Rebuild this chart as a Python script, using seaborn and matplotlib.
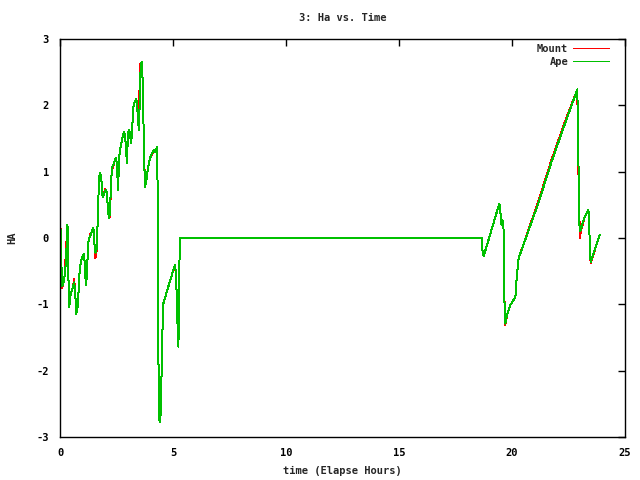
import matplotlib

matplotlib.use("Agg")
import matplotlib.pyplot as plt
import pandas as pd
import seaborn as sns

# elapsed hours, shared by both series
time_hours = [
    0.00, 0.04, 0.09, 0.13, 0.18, 0.22, 0.27, 0.31, 0.33, 0.35, 0.38, 0.41, 0.46, 0.50,
    0.55, 0.59, 0.63, 0.68, 0.72, 0.77, 0.81, 0.85, 0.90, 0.94, 0.99, 1.03, 1.07, 1.12,
    1.16, 1.21, 1.25, 1.30, 1.34, 1.39, 1.43, 1.47, 1.52, 1.53, 1.56, 1.61, 1.65, 1.70,
    1.74, 1.78, 1.83, 1.87, 1.90, 1.95, 1.99, 2.04, 2.08, 2.12, 2.17, 2.21, 2.26, 2.30,
    2.35, 2.39, 2.43, 2.48, 2.52, 2.57, 2.61, 2.65, 2.70, 2.74, 2.79, 2.83, 2.88, 2.92,
    2.96, 3.01, 3.05, 3.10, 3.14, 3.19, 3.23, 3.27, 3.32, 3.36, 3.41, 3.45, 3.50, 3.54,
    3.58, 3.63, 3.67, 3.72, 3.76, 3.81, 3.85, 3.89, 3.94, 3.98, 4.03, 4.07, 4.12, 4.16,
    4.20, 4.25, 4.29, 4.34, 4.35, 4.40, 4.44, 4.48, 4.53, 4.57, 4.66, 4.75, 4.84, 4.93,
    5.01, 5.10, 5.15, 5.19, 5.24, 5.28, 5.32, 18.66, 18.70, 18.75, 19.44, 19.48, 19.53,
    19.57, 19.62, 19.66, 19.70, 19.79, 19.93, 20.15, 20.19, 20.28, 20.32, 21.16, 21.75,
    22.35, 22.89, 22.93, 22.97, 23.00, 23.02, 23.06, 23.20, 23.38, 23.42, 23.44, 23.48,
    23.88,
]

mount_ha = [
    0.50, -0.13, -0.75, -0.71, -0.63, -0.53, -0.10, 0.02, 0.20, -0.13, -0.71, -1.04, -0.88, -0.81,
    -0.76, -0.71, -0.62, -0.88, -1.14, -1.07, -0.88, -0.58, -0.41, -0.33, -0.29, -0.26, -0.24, -0.58,
    -0.71, -0.38, -0.06, 0.00, 0.06, 0.08, 0.12, 0.15, 0.07, -0.18, -0.30, -0.25, 0.07, 0.62,
    0.94, 0.98, 0.89, 0.65, 0.62, 0.67, 0.74, 0.72, 0.67, 0.42, 0.30, 0.33, 0.85, 1.05,
    1.06, 1.13, 1.18, 1.20, 1.10, 0.80, 1.15, 1.33, 1.40, 1.48, 1.55, 1.60, 1.55, 1.33,
    1.16, 1.58, 1.63, 1.58, 1.43, 1.58, 1.94, 2.01, 2.06, 2.09, 2.04, 1.75, 1.93, 2.60,
    2.64, 2.66, 2.18, 1.25, 0.80, 0.85, 0.94, 1.05, 1.14, 1.20, 1.24, 1.25, 1.30, 1.33,
    1.30, 1.34, 1.37, 0.35, -1.74, -2.75, -2.77, -2.27, -1.44, -0.99, -0.89, -0.78, -0.68, -0.58,
    -0.48, -0.43, -0.71, -1.21, -1.64, -0.41, 0.00, 0.00, -0.21, -0.27, 0.52, 0.42, 0.20,
    0.27, 0.25, -0.87, -1.31, -1.15, -1.01, -0.89, -0.68, -0.34, -0.28, 0.55, 1.18,
    1.76, 2.24, 1.13, 0.57, 0.00, 0.05, 0.12, 0.30, 0.42, 0.22, -0.16, -0.38,
    0.05,
]

ape_ha = [
    0.47, -0.13, -0.73, -0.71, -0.63, -0.53, -0.31, 0.02, 0.20, -0.13, -0.71, -1.04, -0.88, -0.81,
    -0.76, -0.71, -0.67, -0.88, -1.14, -1.07, -0.88, -0.58, -0.41, -0.33, -0.29, -0.26, -0.24, -0.58,
    -0.71, -0.38, -0.06, 0.00, 0.03, 0.08, 0.12, 0.15, 0.07, -0.18, -0.22, -0.21, 0.07, 0.62,
    0.94, 0.98, 0.89, 0.65, 0.62, 0.67, 0.70, 0.72, 0.67, 0.42, 0.30, 0.37, 0.85, 1.05,
    1.10, 1.13, 1.18, 1.20, 1.10, 0.72, 1.15, 1.33, 1.40, 1.48, 1.55, 1.60, 1.55, 1.33,
    1.13, 1.58, 1.63, 1.58, 1.43, 1.58, 1.94, 2.01, 2.06, 2.09, 2.04, 1.75, 1.63, 2.33,
    2.63, 2.66, 2.18, 1.25, 0.77, 0.85, 0.94, 1.05, 1.14, 1.20, 1.24, 1.28, 1.30, 1.33,
    1.30, 1.34, 1.37, 0.35, -1.74, -2.75, -2.77, -2.27, -1.44, -0.99, -0.89, -0.78, -0.68, -0.58,
    -0.48, -0.41, -0.71, -1.21, -1.64, -0.41, 0.00, 0.00, -0.21, -0.27, 0.52, 0.42, 0.20,
    0.27, 0.25, -0.89, -1.29, -1.15, -1.01, -0.89, -0.68, -0.34, -0.28, 0.52, 1.15,
    1.73, 2.24, 1.48, 0.23, 0.15, 0.10, 0.15, 0.30, 0.42, 0.22, -0.16, -0.36,
    0.05,
]

series_names = ["Mount", "Ape"]
series_colors = {"Mount": "#ff0000", "Ape": "#00c000"}


def main():
    n = len(time_hours)
    df = pd.DataFrame(
        {
            "time": time_hours + time_hours,
            "ha": mount_ha + ape_ha,
            "source": ["Mount"] * n + ["Ape"] * n,
        }
    )

    sns.set_style("white")
    plt.rcParams["font.family"] = ["DejaVu Sans Mono"]
    plt.rcParams["font.weight"] = "bold"
    plt.rcParams["axes.unicode_minus"] = False
    fs = 7.5

    fig = plt.figure(figsize=(6.4, 4.8), dpi=100)
    ax = fig.add_axes([60 / 640, 43 / 480, 565 / 640, 398 / 480])
    sns.lineplot(
        data=df,
        x="time",
        y="ha",
        hue="source",
        hue_order=series_names,
        palette=series_colors,
        estimator=None,
        sort=False,
        linewidth=0.72,
        ax=ax,
    )
    # crisp 1 px lines, like the original bitmap output
    for line in ax.lines:
        line.set_antialiased(False)

    ax.set(xlim=(0, 25), ylim=(-3, 3), xticks=range(0, 26, 5), yticks=range(-3, 4))
    ax.tick_params(direction="in", length=5, width=1, top=True, right=True,
                   labelsize=fs, pad=8, colors="black")
    for spine in ax.spines.values():
        spine.set_color("black")
        spine.set_linewidth(1)
    ax.set_xlabel("time (Elapse Hours)", fontsize=fs, fontweight="bold", labelpad=6)
    ax.set_ylabel("HA", fontsize=fs, fontweight="bold", labelpad=14)
    ax.set_title("3: Ha vs. Time", fontsize=fs, fontweight="bold", pad=13)

    handles, labels = ax.get_legend_handles_labels()
    leg = ax.legend(
        handles,
        labels,
        loc="upper right",
        bbox_to_anchor=(0.988, 1.012),
        frameon=False,
        markerfirst=False,
        handlelength=3.4,
        handletextpad=0.5,
        labelspacing=0.3,
        prop={"size": fs, "weight": "bold"},
    )
    for h in leg.get_lines():
        h.set_antialiased(False)
        h.set_linewidth(0.72)

    fig.savefig("out.png", dpi=100)
    plt.close(fig)


if __name__ == "__main__":
    main()
